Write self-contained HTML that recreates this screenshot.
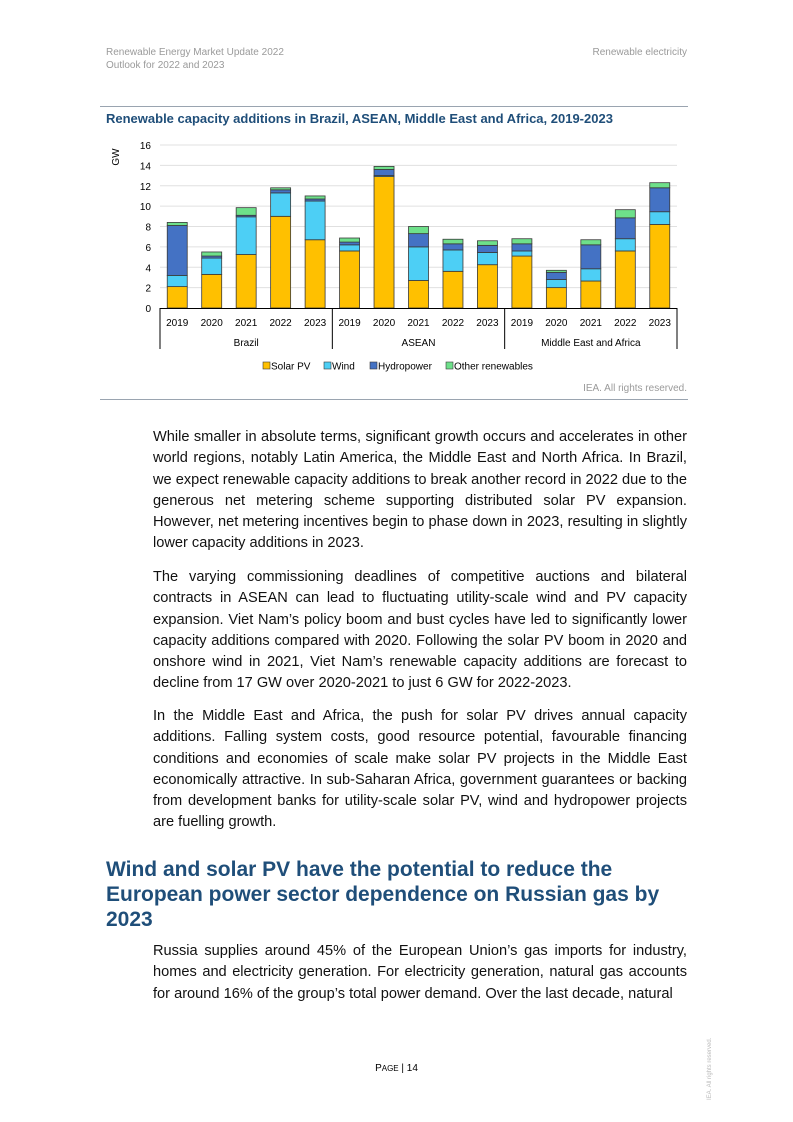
<!DOCTYPE html>
<html><head><meta charset="utf-8"><style>
body{margin:0;background:#fff;}
.page{position:relative;width:793px;height:1122px;font-family:"Liberation Sans",sans-serif;color:#000;overflow:hidden}
.hdr{position:absolute;font-size:10px;color:#9a9a9a;line-height:13px}
.p{position:absolute;left:153px;width:534px;font-size:14.6px;line-height:21.3px;text-align:justify;color:#111}
h2{position:absolute;left:106px;top:857px;width:590px;margin:0;font-size:21px;line-height:25px;color:#1f4e79;font-weight:bold}
</style></head><body>
<div class="page">
<div class="hdr" style="left:106px;top:46px">Renewable Energy Market Update 2022<br>Outlook for 2022 and 2023</div>
<div class="hdr" style="right:106px;top:46px">Renewable electricity</div>
<svg id="chart" width="793" height="410" style="position:absolute;left:0;top:0"></svg>
<div class="p" style="top:427px">While smaller in absolute terms, significant growth occurs and accelerates in other world regions, notably Latin America, the Middle East and North Africa. In Brazil, we expect renewable capacity additions to break another record in 2022 due to the generous net metering scheme supporting distributed solar PV expansion. However, net metering incentives begin to phase down in 2023, resulting in slightly lower capacity additions in 2023.</div>
<div class="p" style="top:567px">The varying commissioning deadlines of competitive auctions and bilateral contracts in ASEAN can lead to fluctuating utility-scale wind and PV capacity expansion. Viet Nam’s policy boom and bust cycles have led to significantly lower capacity additions compared with 2020. Following the solar PV boom in 2020 and onshore wind in 2021, Viet Nam’s renewable capacity additions are forecast to decline from 17 GW over 2020-2021 to just 6 GW for 2022-2023.</div>
<div class="p" style="top:706px">In the Middle East and Africa, the push for solar PV drives annual capacity additions. Falling system costs, good resource potential, favourable financing conditions and economies of scale make solar PV projects in the Middle East economically attractive. In sub-Saharan Africa, government guarantees or backing from development banks for utility-scale solar PV, wind and hydropower projects are fuelling growth.</div>
<h2>Wind and solar PV have the potential to reduce the European power sector dependence on Russian gas by 2023</h2>
<div class="p" style="top:941px">Russia supplies around 45% of the European Union’s gas imports for industry, homes and electricity generation. For electricity generation, natural gas accounts for around 16% of the group’s total power demand. Over the last decade, natural</div>
<div style="position:absolute;left:0;width:793px;top:1063px;text-align:center;font-size:10px">P<span style="font-size:8px">AGE</span> | 14</div>
<div style="position:absolute;left:707px;top:1100px;transform:rotate(-90deg);transform-origin:0 0;font-size:6px;color:#bbb;white-space:nowrap">IEA. All rights reserved.</div>
</div>
<script>
const years=["2019","2020","2021","2022","2023","2019","2020","2021","2022","2023","2019","2020","2021","2022","2023"];
const groups=["Brazil","ASEAN","Middle East and Africa"];
const solar=[2.1,3.3,5.25,9.0,6.7,5.6,12.9,2.7,3.6,4.25,5.1,2.0,2.65,5.6,8.2];
const wind=[1.1,1.6,3.7,2.3,3.8,0.6,0.1,3.3,2.1,1.2,0.5,0.8,1.2,1.2,1.25];
const hydro=[4.9,0.2,0.15,0.3,0.2,0.27,0.6,1.3,0.6,0.7,0.7,0.7,2.35,2.05,2.35];
const other=[0.3,0.4,0.75,0.2,0.3,0.4,0.3,0.7,0.45,0.45,0.5,0.2,0.5,0.8,0.5];
const yTicks=[0,2,4,6,8,10,12,14,16];
const seriesNames=["Solar PV","Wind","Hydropower","Other renewables"];
const colors=["#ffc000","#4dcff5","#4472c4","#6ee08a"];
const svg=document.getElementById('chart');const NS="http://www.w3.org/2000/svg";
function mk(t,a,p){const e=document.createElementNS(NS,t);for(const k in a)e.setAttribute(k,a[k]);(p||svg).appendChild(e);return e;}
const x0=160,x1=677,yb=308,yt=145;
const y=v=>yb-(v/16)*(yb-yt);
const slot=(x1-x0)/years.length;
const xc=i=>x0+slot*(i+0.5);
let e;
e=mk('line',{x1:100,y1:106.5,x2:688,y2:106.5,stroke:'#9aa4b0','stroke-width':1});

e=mk('line',{x1:100,y1:399.5,x2:688,y2:399.5,stroke:'#9aa4b0','stroke-width':1});

e=mk('text',{x:106,y:123,'font-size':13,'font-weight':'bold',fill:'#1f4e79'});e.textContent="Renewable capacity additions in Brazil, ASEAN, Middle East and Africa, 2019-2023";

yTicks.forEach(t=>{
 if(t>0){e=mk('line',{x1:x0,x2:x1,y1:y(t),y2:y(t),stroke:'#e0e0e0','stroke-width':1});
 }
 e=mk('text',{x:151,y:y(t)+4,'font-size':10,'text-anchor':'end',fill:'#000'});e.textContent=t;
 
});
e=mk('text',{x:0,y:0,'font-size':10,'text-anchor':'middle',transform:'translate(119,157) rotate(-90)'});e.textContent="GW";

const series=[solar,wind,hydro,other];
years.forEach((yr,i)=>{
 let base=0;
 series.forEach((s,k)=>{
  const v=s[i];
  e=mk('rect',{x:xc(i)-10,y:y(base+v),width:20,height:y(base)-y(base+v),fill:colors[k],stroke:'#3a3a3a','stroke-width':0.8});
  
  base+=v;
 });
 e=mk('text',{x:xc(i),y:326,'font-size':10,'text-anchor':'middle'});e.textContent=yr;
 
});
e=mk('line',{x1:x0,x2:x1,y1:yb+0.5,y2:yb+0.5,stroke:'#000','stroke-width':1});

const per=years.length/groups.length;
for(let g=0;g<=groups.length;g++){
 const xx=x0+slot*per*g;
 e=mk('line',{x1:xx,x2:xx,y1:yb,y2:349,stroke:'#000','stroke-width':1});
 
}
groups.forEach((g,j)=>{
 e=mk('text',{x:x0+slot*per*(j+0.5),y:346,'font-size':10,'text-anchor':'middle'});e.textContent=g;
 
});
const lx=[263,324,370,446];
seriesNames.forEach((n,k)=>{
 e=mk('rect',{x:lx[k],y:362,width:7,height:7,fill:colors[k],stroke:'#3a3a3a','stroke-width':0.6});
 
 e=mk('text',{x:lx[k]+8,y:369.5,'font-size':10});e.textContent=n;
 
});
e=mk('text',{x:687,y:391,'font-size':10,'text-anchor':'end',fill:'#9a9a9a'});e.textContent="IEA. All rights reserved.";

</script>
</body></html>
